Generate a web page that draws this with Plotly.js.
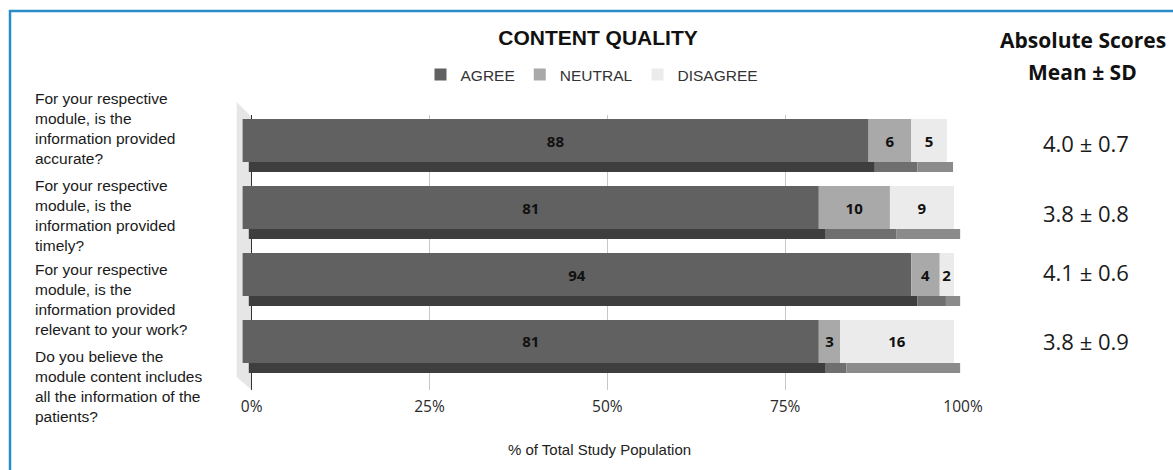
<!DOCTYPE html>
<html>
<head>
<meta charset="utf-8">
<script src="https://cdn.plot.ly/plotly-3.0.1.min.js"></script>
<style>
  html, body { margin: 0; padding: 0; background: #ffffff; }
  #chart { width: 1173px; height: 470px; }
</style>
</head>
<body>
<div id="chart"></div>
<script>
// ---------------- data ----------------
const categories = [
  'For your respective<br>module, is the<br>information provided<br>accurate?',
  'For your respective<br>module, is the<br>information provided<br>timely?',
  'For your respective<br>module, is the<br>information provided<br>relevant to your work?',
  'Do you believe the<br>module content includes<br>all the information of the<br>patients?'
];
const seriesNames = ['AGREE', 'NEUTRAL', 'DISAGREE'];
const agree    = [88, 81, 94, 81];
const neutral  = [6, 10, 4, 3];
const disagree = [5, 9, 2, 16];
const meanScore = [4.0, 3.8, 4.1, 3.8];
const sdScore   = [0.7, 0.8, 0.6, 0.9];
const xTickVals = [0, 25, 50, 75, 100];
const xTickText = ['0%', '25%', '50%', '75%', '100%'];
const chartTitle = 'CONTENT QUALITY';
const xAxisTitle = '% of Total Study Population';
const scoreHeader = ['Absolute Scores', 'Mean ± SD'];

// ---------------- layout constants ----------------
const W = 1173, H = 470;
const M = { l: 236, r: 210, t: 115, b: 80 };
const PW = W - M.l - M.r, PH = H - M.t - M.b;
const px2x = px => (px - M.l) / PW;
const py2y = py => (H - M.b - py) / PH;

const frontColors  = ['#616161', '#a9a9a9', '#ebebeb'];
const bottomColors = ['#3e3e3e', '#6f6f6f', '#8b8b8b'];
const FRONT_SHIFT = -1.27;   // 3D depth: front face sits slightly left
const BOTTOM_SHIFT = -0.4;
const FRONT_W = 0.642, BOTTOM_W = 0.149;
const labelYpx = [128.5, 215.5, 299, 386.5];
const scoreYshift = [-2.5, -5, 3, 0.5];

const series = [agree, neutral, disagree];
const pos = categories.map((_, i) => i);
const bases = series.map((s, k) => s.map((_, i) => {
  let b = 0; for (let j = 0; j < k; j++) b += series[j][i]; return b;
}));

const traces = [];
series.forEach((vals, k) => {
  traces.push({
    type: 'bar', orientation: 'h', y: pos, x: vals,
    base: bases[k].map(b => b + BOTTOM_SHIFT),
    width: BOTTOM_W, offset: FRONT_W / 2,
    marker: { color: bottomColors[k], line: { width: 0 } },
    showlegend: false, hoverinfo: 'skip', name: seriesNames[k] + ' base'
  });
});
series.forEach((vals, k) => {
  traces.push({
    type: 'bar', orientation: 'h', y: pos, x: vals,
    base: bases[k].map(b => b + FRONT_SHIFT),
    width: FRONT_W, offset: -FRONT_W / 2,
    name: seriesNames[k],
    marker: { color: frontColors[k], line: { width: 0 } },
    text: vals.map(v => '<b>' + v + '</b>'),
    textposition: 'inside', insidetextanchor: 'middle',
    textangle: 0, constraintext: 'none',
    textfont: { family: 'Open Sans, sans-serif', size: 15, color: '#111' },
    hoverinfo: 'skip'
  });
});

const annotations = [];
categories.forEach((c, i) => {
  annotations.push({
    text: c, xref: 'paper', yref: 'paper', x: px2x(33), y: py2y(labelYpx[i]),
    xanchor: 'left', yanchor: 'middle', align: 'left', showarrow: false,
    font: { family: 'Liberation Sans, Arial, sans-serif', size: 15.5, color: '#1a1a1a' }
  });
  annotations.push({
    text: meanScore[i].toFixed(1) + ' ± ' + sdScore[i].toFixed(1),
    xref: 'paper', yref: 'y', x: px2x(1086), y: i, yshift: scoreYshift[i],
    xanchor: 'center', yanchor: 'middle', showarrow: false,
    font: { family: 'Open Sans, sans-serif', size: 22, color: '#1a1a1a' }
  });
});
annotations.push({
  text: '<b>' + scoreHeader[0] + '</b>', xref: 'paper', yref: 'paper',
  x: px2x(1083), y: py2y(40), xanchor: 'center', yanchor: 'middle', showarrow: false,
  font: { family: 'Open Sans, sans-serif', size: 21, color: '#111' }
});
annotations.push({
  text: '<b>' + scoreHeader[1] + '</b>', xref: 'paper', yref: 'paper',
  x: px2x(1082), y: py2y(72), xanchor: 'center', yanchor: 'middle', showarrow: false,
  font: { family: 'Open Sans, sans-serif', size: 21, color: '#111' }
});

const shapes = [
  // left 3D wall
  { type: 'path', xref: 'x', yref: 'paper', layer: 'below',
    path: `M-2.1,${py2y(102)} L0,${py2y(117)} L0,${py2y(390)} L-2.1,${py2y(377)} Z`,
    fillcolor: '#e6e6e6', line: { width: 0 } },
  // frame
  { type: 'line', xref: 'paper', yref: 'paper', x0: px2x(9), x1: px2x(1180),
    y0: py2y(11), y1: py2y(11), line: { color: '#2a8dc8', width: 2.5 } },
  { type: 'line', xref: 'paper', yref: 'paper', x0: px2x(10), x1: px2x(10),
    y0: py2y(10), y1: py2y(480), line: { color: '#2a8dc8', width: 2.5 } }
];

const layout = {
  width: W, height: H, margin: M,
  paper_bgcolor: '#ffffff', plot_bgcolor: 'rgba(0,0,0,0)',
  barmode: 'overlay', hovermode: false,
  title: { text: '<b>' + chartTitle + '</b>', x: px2x(598), xref: 'paper', xanchor: 'center',
    y: 1 - 38 / H, yref: 'container', yanchor: 'middle',
    font: { family: 'Liberation Sans, Arial, sans-serif', size: 21, color: '#111' } },
  legend: { orientation: 'h', x: px2x(592), xanchor: 'center', y: py2y(75), yanchor: 'middle',
    font: { family: 'Liberation Sans, Arial, sans-serif', size: 15.5, color: '#333' },
    bgcolor: 'rgba(0,0,0,0)', traceorder: 'normal' },
  xaxis: {
    range: [-2.2, 100], fixedrange: true,
    tickvals: xTickVals, ticktext: xTickText,
    showgrid: true, gridcolor: 'rgba(0,0,0,0.22)', gridwidth: 1,
    zeroline: true, zerolinecolor: '#333', zerolinewidth: 1.5,
    layer: 'above traces', showline: false,
    ticks: 'outside', ticklen: 2, tickcolor: 'rgba(0,0,0,0)',
    tickfont: { family: 'Open Sans, sans-serif', size: 15.5, color: '#2a2a2a' },
    title: { text: xAxisTitle, standoff: 28,
      font: { family: 'Liberation Sans, Arial, sans-serif', size: 15, color: '#222' } }
  },
  yaxis: {
    range: [3.724, -0.381], fixedrange: true,
    showticklabels: false, showgrid: false, zeroline: false, showline: false, ticks: ''
  },
  annotations: annotations,
  shapes: shapes
};

Plotly.newPlot('chart', traces, layout, { displayModeBar: false, staticPlot: true });
</script>
</body>
</html>
